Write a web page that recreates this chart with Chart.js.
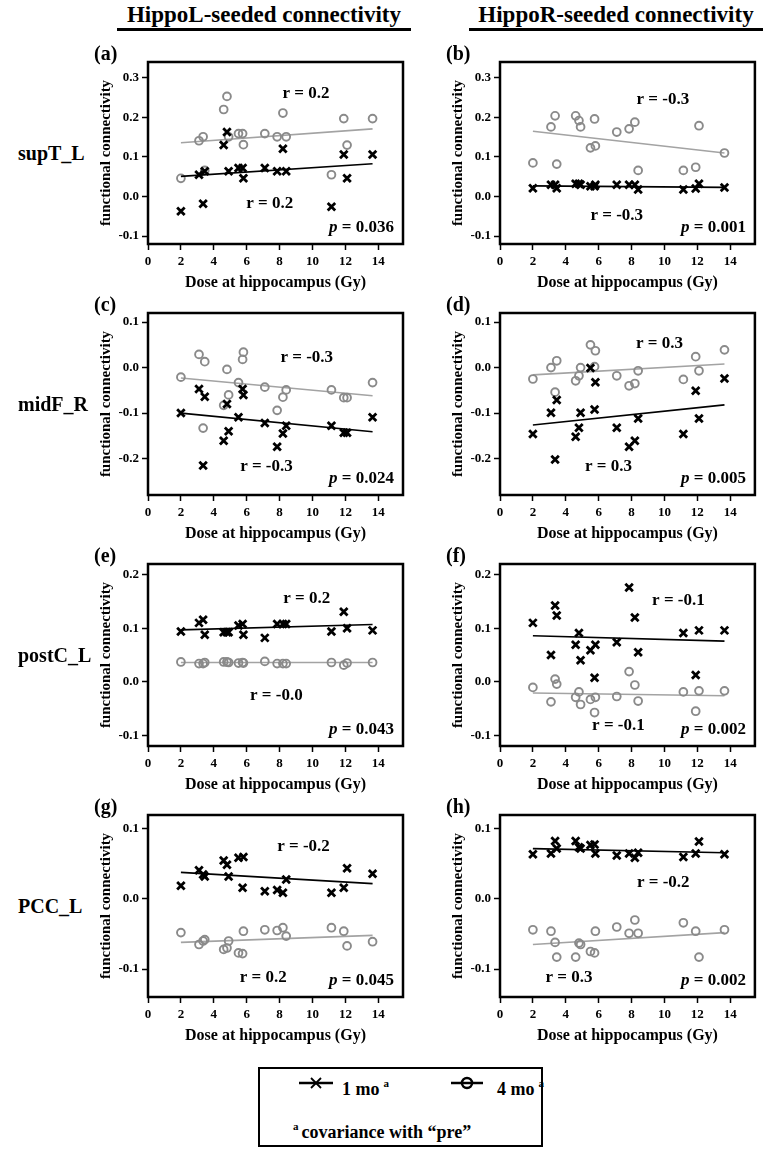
<!DOCTYPE html>
<html>
<head>
<meta charset="utf-8">
<script src="https://cdn.jsdelivr.net/npm/chart.js@4"></script>
<style>
  body { margin: 0; background: #fff; }
  #page { position: relative; width: 763px; height: 1150px; font-family: 'Liberation Serif', 'Times New Roman', serif; font-weight: bold; color: #000; }
  .head { position: absolute; top: 1px; width: 294px; height: 27px; line-height: 27px; font-size: 23px; text-align: center; border-bottom: 3px solid #000; }
  .rowlab { position: absolute; left: 18px; font-size: 20px; line-height: 22px; }
  .letter { position: absolute; font-size: 20px; line-height: 22px; }
  canvas.panel { position: absolute; }
  #legend { position: absolute; left: 258px; top: 1067px; width: 281px; height: 76px; border: 2.5px solid #000; font-size: 18px; }
  #legend .it { position: absolute; line-height: 20px; white-space: nowrap; }
  #legend sup { font-size: 11px; vertical-align: 8px; margin-left: 4px; }
</style>
</head>
<body>
<div id="page">
  <div class="head" style="left:117px">HippoL-seeded connectivity</div>
  <div class="head" style="left:469px">HippoR-seeded connectivity</div>
  <div id="legend">
    <svg class="it" style="left:38px;top:6px" width="36" height="16">
      <line x1="1" y1="8" x2="35" y2="8" stroke="#000" stroke-width="2.5"/>
      <line x1="13" y1="3" x2="23" y2="13" stroke="#000" stroke-width="1.8"/>
      <line x1="23" y1="3" x2="13" y2="13" stroke="#000" stroke-width="1.8"/>
    </svg>
    <div class="it" style="left:82px;top:4px">1 mo<sup>a</sup></div>
    <svg class="it" style="left:190px;top:6px" width="34" height="16">
      <line x1="1" y1="8" x2="33" y2="8" stroke="#000" stroke-width="2.5"/>
      <circle cx="17" cy="8" r="5" fill="none" stroke="#000" stroke-width="2.5"/>
    </svg>
    <div class="it" style="left:237px;top:4px">4 mo<sup>a</sup></div>
    <div class="it" style="left:33px;top:47px"><sup style="margin:0 3px 0 0">a</sup>covariance with “pre”</div>
  </div>
</div>
<script>
// dose at hippocampus (Gy) for each subject
const dose = [2.0, 3.1, 3.35, 3.45, 4.6, 4.8, 4.9, 5.5, 5.75, 5.8, 7.1, 7.85, 8.2, 8.4, 11.15, 11.9, 12.1, 13.65];
const xTicks = [0, 2, 4, 6, 8, 10, 12, 14];
const fitX = [2.0, 13.65];

// (a) supT_L, HippoL
const a1mo = [-0.037, 0.055, -0.018, 0.064, 0.130, 0.163, 0.064, 0.072, 0.072, 0.046, 0.072, 0.064, 0.121, 0.064, -0.026, 0.106, 0.046, 0.106];
const a4mo = [0.046, 0.141, 0.151, 0.066, 0.220, 0.253, 0.151, 0.159, 0.159, 0.131, 0.159, 0.151, 0.211, 0.151, 0.055, 0.197, 0.130, 0.197];
const aFit1 = [0.051, 0.083];
const aFit4 = [0.136, 0.171];
// (b) supT_L, HippoR
const b1mo = [0.021, 0.030, 0.030, 0.021, 0.032, 0.032, 0.030, 0.026, 0.026, 0.030, 0.030, 0.030, 0.030, 0.018, 0.018, 0.020, 0.032, 0.023];
const b4mo = [0.085, 0.176, 0.204, 0.082, 0.204, 0.192, 0.176, 0.123, 0.196, 0.128, 0.163, 0.171, 0.188, 0.066, 0.066, 0.074, 0.179, 0.110];
const bFit1 = [0.027, 0.023];
const bFit4 = [0.165, 0.110];
// (c) midF_R, HippoL
const c1mo = [-0.100, -0.047, -0.215, -0.064, -0.161, -0.080, -0.140, -0.109, -0.047, -0.060, -0.122, -0.174, -0.145, -0.128, -0.128, -0.143, -0.143, -0.109];
const c4mo = [-0.021, 0.029, -0.133, 0.013, -0.083, -0.004, -0.060, -0.033, 0.018, 0.034, -0.043, -0.094, -0.065, -0.049, -0.049, -0.066, -0.066, -0.033];
const cFit1 = [-0.100, -0.141];
const cFit4 = [-0.023, -0.062];
// (d) midF_R, HippoR
const d1mo = [-0.146, -0.099, -0.202, -0.071, -0.152, -0.132, -0.099, -0.001, -0.092, -0.032, -0.132, -0.174, -0.161, -0.112, -0.146, -0.051, -0.112, -0.024];
const d4mo = [-0.025, 0.000, -0.054, 0.015, -0.029, -0.018, 0.000, 0.050, 0.002, 0.037, -0.018, -0.040, -0.035, -0.007, -0.026, 0.024, -0.007, 0.039];
const dFit1 = [-0.126, -0.082];
const dFit4 = [-0.016, 0.008];
// (e) postC_L, HippoL
const e1mo = [0.094, 0.110, 0.116, 0.088, 0.0925, 0.0925, 0.0925, 0.105, 0.108, 0.088, 0.082, 0.108, 0.108, 0.108, 0.094, 0.131, 0.100, 0.096];
const e4mo = [0.037, 0.034, 0.034, 0.036, 0.037, 0.037, 0.036, 0.035, 0.036, 0.035, 0.038, 0.034, 0.034, 0.034, 0.036, 0.031, 0.035, 0.036];
const eFit1 = [0.097, 0.107];
const eFit4 = [0.036, 0.036];
// (f) postC_L, HippoR
const f1mo = [0.110, 0.050, 0.1425, 0.124, 0.069, 0.091, 0.040, 0.059, 0.0075, 0.069, 0.074, 0.176, 0.120, 0.055, 0.091, 0.0125, 0.096, 0.096];
const f4mo = [-0.0106, -0.0375, 0.005, -0.0044, -0.029, -0.019, -0.0425, -0.033, -0.0575, -0.029, -0.0275, 0.019, -0.006, -0.036, -0.019, -0.055, -0.017, -0.017];
const fFit1 = [0.086, 0.076];
const fFit4 = [-0.021, -0.026];
// (g) PCC_L, HippoL
const g1mo = [0.019, 0.041, 0.035, 0.032, 0.055, 0.049, 0.032, 0.059, 0.016, 0.060, 0.011, 0.013, 0.009, 0.028, 0.009, 0.016, 0.044, 0.036];
const g4mo = [-0.048, -0.065, -0.060, -0.058, -0.072, -0.070, -0.060, -0.077, -0.078, -0.046, -0.044, -0.045, -0.041, -0.053, -0.041, -0.046, -0.067, -0.061];
const gFit1 = [0.038, 0.022];
const gFit4 = [-0.062, -0.052];
// (h) PCC_L, HippoR
const h1mo = [0.064, 0.065, 0.083, 0.072, 0.083, 0.074, 0.072, 0.077, 0.078, 0.065, 0.062, 0.065, 0.059, 0.066, 0.060, 0.065, 0.082, 0.064];
const h4mo = [-0.044, -0.046, -0.062, -0.083, -0.083, -0.063, -0.065, -0.075, -0.077, -0.046, -0.040, -0.049, -0.030, -0.049, -0.034, -0.046, -0.083, -0.044];
const hFit1 = [0.072, 0.066];
const hFit4 = [-0.065, -0.048];

// y ticks per row
const yTicksRow1 = [-0.1, 0.0, 0.1, 0.2, 0.3];
const yTicksRow2 = [-0.2, -0.1, 0.0, 0.1];
const yTicksRow3 = [-0.1, 0.0, 0.1, 0.2];
const yTicksRow4 = [-0.1, 0.0, 0.1];
const rowLabels = ['supT_L', 'midF_R', 'postC_L', 'PCC_L'];

const SERIF = "'Liberation Serif', 'Times New Roman', serif";
const GRAY_PT = '#8a8a8a';
const GRAY_LN = '#a3a3a3';

const panels = [
  { id: 'a', col: 0, row: 0, one: a1mo, four: a4mo, fit1: aFit1, fit4: aFit4, yMin: -0.12, yMax: 0.34, ticks: yTicksRow1,
    notes: [['r = 0.2', 9.6, 0.26], ['r = 0.2', 7.4, -0.018]], p: '0.036' },
  { id: 'b', col: 1, row: 0, one: b1mo, four: b4mo, fit1: bFit1, fit4: bFit4, yMin: -0.12, yMax: 0.34, ticks: yTicksRow1,
    notes: [['r = -0.3', 9.9, 0.245], ['r = -0.3', 7.1, -0.048]], p: '0.001' },
  { id: 'c', col: 0, row: 1, one: c1mo, four: c4mo, fit1: cFit1, fit4: cFit4, yMin: -0.28, yMax: 0.12, ticks: yTicksRow2,
    notes: [['r = -0.3', 9.65, 0.022], ['r = -0.3', 7.2, -0.218]], p: '0.024' },
  { id: 'd', col: 1, row: 1, one: d1mo, four: d4mo, fit1: dFit1, fit4: dFit4, yMin: -0.28, yMax: 0.12, ticks: yTicksRow2,
    notes: [['r = 0.3', 9.7, 0.052], ['r = 0.3', 6.6, -0.218]], p: '0.005' },
  { id: 'e', col: 0, row: 2, one: e1mo, four: e4mo, fit1: eFit1, fit4: eFit4, yMin: -0.12, yMax: 0.22, ticks: yTicksRow3,
    notes: [['r = 0.2', 9.65, 0.156], ['r = -0.0', 7.8, -0.025]], p: '0.043' },
  { id: 'f', col: 1, row: 2, one: f1mo, four: f4mo, fit1: fFit1, fit4: fFit4, yMin: -0.12, yMax: 0.22, ticks: yTicksRow3,
    notes: [['r = -0.1', 10.85, 0.152], ['r = -0.1', 7.2, -0.0825]], p: '0.002' },
  { id: 'g', col: 0, row: 3, one: g1mo, four: g4mo, fit1: gFit1, fit4: gFit4, yMin: -0.14, yMax: 0.12, ticks: yTicksRow4,
    notes: [['r = -0.2', 9.45, 0.075], ['r = 0.2', 7.0, -0.112]], p: '0.045' },
  { id: 'h', col: 1, row: 3, one: h1mo, four: h4mo, fit1: hFit1, fit4: hFit4, yMin: -0.14, yMax: 0.12, ticks: yTicksRow4,
    notes: [['r = -0.2', 9.93, 0.023], ['r = 0.3', 4.2, -0.112]], p: '0.002' }
];

const boxTop = [62, 313, 564, 815];
const boxLeft = [148, 500];
const canvasW = [318, 316];

// black frame around the plot area
const framePlugin = {
  id: 'frame',
  afterDraw(chart) {
    const { ctx, chartArea: a } = chart;
    ctx.save();
    ctx.strokeStyle = '#000';
    ctx.lineWidth = 2.5;
    ctx.strokeRect(a.left, a.top, a.right - a.left, a.bottom - a.top);
    ctx.restore();
  }
};

// r values and p value inside the box
const notesPlugin = {
  id: 'notes',
  afterDraw(chart) {
    const cfg = chart.options.plugins.notes;
    const { ctx, chartArea: a, scales } = chart;
    ctx.save();
    ctx.fillStyle = '#000';
    ctx.textBaseline = 'middle';
    ctx.font = 'bold 17px ' + SERIF;
    ctx.textAlign = 'center';
    cfg.notes.forEach(n => {
      ctx.fillText(n[0], scales.x.getPixelForValue(n[1]), scales.y.getPixelForValue(n[2]));
    });
    // p = ...
    ctx.textAlign = 'left';
    const rest = ' = ' + cfg.p;
    const wRest = ctx.measureText(rest).width;
    ctx.font = 'italic bold 17px ' + SERIF;
    const wP = ctx.measureText('p').width;
    const x0 = a.right - 9 - wRest - wP;
    const yP = a.bottom - 16;
    ctx.fillText('p', x0, yP);
    ctx.font = 'bold 17px ' + SERIF;
    ctx.fillText(rest, x0 + wP, yP);
    ctx.restore();
  }
};

function makePanel(p) {
  const cv = document.createElement('canvas');
  cv.className = 'panel';
  const left = boxLeft[p.col] - 53;
  const top = boxTop[p.row] - 14;
  cv.width = canvasW[p.col];
  cv.height = 246;
  cv.style.left = left + 'px';
  cv.style.top = top + 'px';
  document.getElementById('page').appendChild(cv);

  const letter = document.createElement('div');
  letter.className = 'letter';
  letter.textContent = '(' + p.id + ')';
  letter.style.left = (boxLeft[p.col] - 54) + 'px';
  letter.style.top = (boxTop[p.row] - 20) + 'px';
  document.getElementById('page').appendChild(letter);

  const tickFont = { family: SERIF, size: 13, weight: 'bold' };
  const gridOpts = { drawOnChartArea: false, drawTicks: true, tickLength: 6, tickWidth: 1.5, tickColor: '#000', color: '#000' };

  new Chart(cv, {
    type: 'scatter',
    data: {
      datasets: [
        { data: fitX.map((x, i) => ({ x, y: p.fit4[i] })), showLine: true, borderColor: GRAY_LN, borderWidth: 1.6, pointRadius: 0, order: 4 },
        { data: dose.map((x, i) => ({ x, y: p.four[i] })), pointStyle: 'circle', pointRadius: 3.9, borderWidth: 1.9,
          borderColor: GRAY_PT, backgroundColor: 'rgba(0,0,0,0)', order: 3 },
        { data: fitX.map((x, i) => ({ x, y: p.fit1[i] })), showLine: true, borderColor: '#000', borderWidth: 1.6, pointRadius: 0, order: 2 },
        { data: dose.map((x, i) => ({ x, y: p.one[i] })), pointStyle: 'crossRot', pointRadius: 5.3, borderWidth: 2.8,
          borderColor: '#000', order: 1 }
      ]
    },
    options: {
      responsive: false,
      animation: false,
      events: [],
      layout: { padding: { top: 14, right: canvasW[p.col] - 53 - 255, left: 0, bottom: 0 } },
      plugins: { legend: { display: false }, tooltip: { enabled: false }, notes: { notes: p.notes, p: p.p } },
      scales: {
        x: {
          type: 'linear', min: 0, max: 15.5,
          afterBuildTicks: ax => { ax.ticks = xTicks.map(v => ({ value: v })); },
          afterFit: ax => { ax.height = 50; },
          grid: gridOpts,
          border: { display: false },
          ticks: { padding: 4, font: tickFont, color: '#000', maxRotation: 0, autoSkip: false },
          title: { display: true, text: 'Dose at hippocampus (Gy)', color: '#000',
                   font: { family: SERIF, size: 16, weight: 'bold' }, padding: { top: 0, bottom: 2 } }
        },
        y: {
          type: 'linear', min: p.yMin, max: p.yMax,
          afterBuildTicks: ax => { ax.ticks = p.ticks.map(v => ({ value: v })); },
          afterFit: ax => { ax.width = 53; },
          grid: gridOpts,
          border: { display: false },
          ticks: { padding: 3, font: tickFont, color: '#000', callback: v => (Math.abs(v) < 1e-9 ? 0 : v).toFixed(1) },
          title: { display: true, text: 'functional connectivity', color: '#000',
                   font: { family: SERIF, size: 15, weight: 'bold' }, padding: { top: 2, bottom: 0 } }
        }
      }
    },
    plugins: [framePlugin, notesPlugin]
  });
}

panels.forEach(makePanel);

rowLabels.forEach((t, i) => {
  const el = document.createElement('div');
  el.className = 'rowlab';
  el.textContent = t;
  el.style.top = (boxTop[i] + 91 - 11) + 'px';
  document.getElementById('page').appendChild(el);
});
</script>
</body>
</html>
